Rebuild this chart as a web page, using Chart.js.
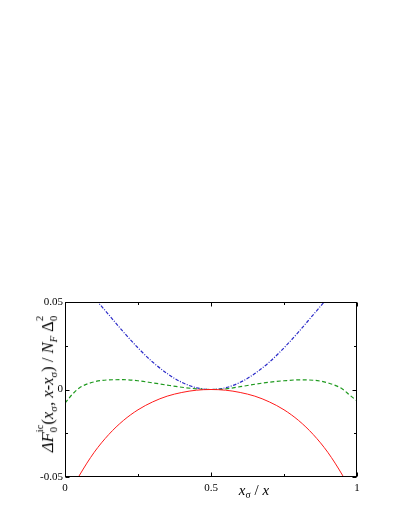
<!DOCTYPE html>
<html>
<head>
<meta charset="utf-8">
<script src="https://cdn.jsdelivr.net/npm/chart.js@4"></script>
<style>
  body { margin: 0; background: #fff; }
  #wrap { position: relative; width: 411px; height: 532px; }
  .axis-title {
    position: absolute;
    font-family: "Liberation Serif", "Times New Roman", serif;
    color: #000;
    white-space: nowrap;
    line-height: 1;
  }
  .axis-title sub { font-size: 0.65em; vertical-align: -0.35em; line-height: 0; }
  .stack {
    display: inline-block;
    vertical-align: -4px;
    font-size: 0.65em;
    line-height: 1.3;
  }
  .stack span { display: block; }
  #yTitle {
    font-size: 16.5px;
    left: 47px;
    top: 384px;
    transform: translate(-50%, -50%) rotate(-90deg);
  }
  #xTitle {
    font-size: 15px;
    left: 254px;
    top: 490px;
    transform: translate(-50%, -50%);
  }
</style>
</head>
<body>
<div id="wrap">
  <canvas id="chart" width="411" height="532"></canvas>
  <div class="axis-title" id="yTitle"><i>&Delta;F</i><span class="stack"><span>ic</span><span>0</span></span>(<i>x</i><sub>&sigma;</sub>, <i>x</i>-<i>x</i><sub>&sigma;</sub>) / <i>N</i><sub><i>F</i></sub> &Delta;<span class="stack"><span>2</span><span>0</span></span></div>
  <div class="axis-title" id="xTitle"><i>x</i><sub>&sigma;</sub> / <i>x</i></div>
</div>
<script>
const xValues = [0, 0.025, 0.05, 0.1, 0.15, 0.2, 0.25, 0.3, 0.35, 0.4, 0.45, 0.5,
    0.55, 0.6, 0.65, 0.7, 0.75, 0.8, 0.85, 0.9, 0.95, 0.975, 1];

// solid red
const redValues = [-0.065, -0.0565, -0.0489, -0.0359, -0.0257, -0.0177, -0.0116, -0.0071, -0.0038, -0.0017, -0.0004, 0,
    -0.0004, -0.0017, -0.0038, -0.0071, -0.0116, -0.0177, -0.0257, -0.0359, -0.0489, -0.0565, -0.065];

// dashed green
const greenValues = [-0.0078, -0.0028, 0.001, 0.0044, 0.0055, 0.0056, 0.005, 0.0038, 0.0025, 0.0013, 0.0004, 0,
    0.0004, 0.0016, 0.003, 0.0042, 0.005, 0.0055, 0.0053, 0.0038, 0.0003, -0.0032, -0.0065];

// dash-dot blue
const blueValues = [0.0696, 0.0665, 0.062, 0.0524, 0.0427, 0.0329, 0.0238, 0.0157, 0.0091, 0.0041, 0.001, 0,
    0.001, 0.0041, 0.0091, 0.0157, 0.0238, 0.0329, 0.0427, 0.0524, 0.062, 0.0665, 0.0696];

const xTickLabels = { "0": "0", "0.5": "0.5", "1": "1" };
const yTickLabels = { "-0.05": "-0.05", "0": "0", "0.05": "0.05" };

const toPoints = (ys) => xValues.map((x, i) => ({ x: x, y: ys[i] }));
const keyOf = (v) => String(Math.round(v * 1000) / 1000);

// frame on all four sides with inward ticks
const frameTicks = {
    id: "frameTicks",
    afterDraw(chart) {
        const { ctx, chartArea: a, scales } = chart;
        const left = Math.round(a.left) + 0.5;
        const right = Math.round(a.right) - 0.5;
        const top = Math.round(a.top) + 0.5;
        const bottom = Math.round(a.bottom) - 0.5;
        ctx.save();
        ctx.strokeStyle = "#000";
        ctx.lineWidth = 1;
        ctx.strokeRect(left, top, right - left, bottom - top);
        ctx.beginPath();
        scales.x.ticks.forEach((t) => {
            const px = Math.round(scales.x.getPixelForValue(t.value)) + 0.5;
            const len = xTickLabels[keyOf(t.value)] ? 4 : 2.5;
            ctx.moveTo(px, bottom); ctx.lineTo(px, bottom - len);
            ctx.moveTo(px, top); ctx.lineTo(px, top + len);
        });
        scales.y.ticks.forEach((t) => {
            const py = Math.round(scales.y.getPixelForValue(t.value)) + 0.5;
            const len = yTickLabels[keyOf(t.value)] ? 4 : 2.5;
            ctx.moveTo(left, py); ctx.lineTo(left + len, py);
            ctx.moveTo(right, py); ctx.lineTo(right - len, py);
        });
        ctx.stroke();
        ctx.restore();
    }
};

const tickFont = { family: "Liberation Serif", size: 11 };

new Chart(document.getElementById("chart"), {
    type: "line",
    data: {
        datasets: [
            {
                data: toPoints(redValues),
                borderColor: "#ff1a1a",
                borderWidth: 1,
                cubicInterpolationMode: "monotone",
                pointRadius: 0,
            },
            {
                data: toPoints(greenValues),
                borderColor: "#1f9a1f",
                borderWidth: 1.2,
                borderDash: [4, 2.5],
                cubicInterpolationMode: "monotone",
                pointRadius: 0,
            },
            {
                data: toPoints(blueValues),
                borderColor: "#2a2ac8",
                borderWidth: 1.2,
                borderDash: [3.5, 1.5, 1, 1.5],
                cubicInterpolationMode: "monotone",
                pointRadius: 0,
            }
        ]
    },
    options: {
        responsive: false,
        animation: false,
        layout: { padding: { top: 302, right: 54, left: 0, bottom: 0 } },
        plugins: {
            legend: { display: false },
            tooltip: { enabled: false }
        },
        scales: {
            x: {
                type: "linear",
                min: 0,
                max: 1,
                grid: { display: false, drawTicks: false },
                border: { display: false },
                afterFit: (scale) => { scale.height = 55; },
                ticks: {
                    stepSize: 0.25,
                    autoSkip: false,
                    maxRotation: 0,
                    padding: 5,
                    color: "#000",
                    font: tickFont,
                    callback: (v) => xTickLabels[keyOf(v)] || ""
                }
            },
            y: {
                min: -0.05,
                max: 0.05,
                grid: { display: false, drawTicks: false },
                border: { display: false },
                afterFit: (scale) => { scale.width = 65; },
                ticks: {
                    stepSize: 0.025,
                    autoSkip: false,
                    padding: 2,
                    color: "#000",
                    font: tickFont,
                    callback: (v) => yTickLabels[keyOf(v)] || ""
                }
            }
        }
    },
    plugins: [frameTicks]
});
</script>
</body>
</html>
